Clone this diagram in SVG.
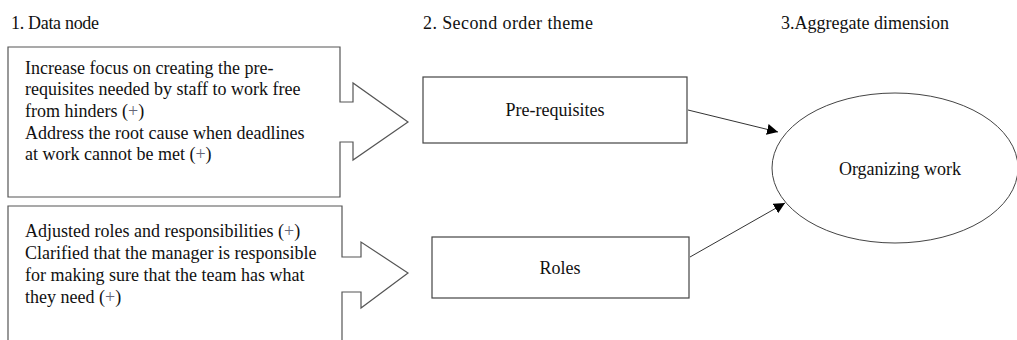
<svg xmlns="http://www.w3.org/2000/svg" width="1017" height="340" viewBox="0 0 1017 340">
<style>
text{font-family:"Liberation Serif","Times New Roman",serif;font-size:18px;fill:#111}
.box{fill:#fff;stroke:#444;stroke-width:1.2}
.callout{fill:#fff;stroke:#555;stroke-width:1.2}
.con{stroke:#333;stroke-width:1;fill:none}
.p{fill:#667}
</style>
<defs>
<marker id="ah" viewBox="0 0 10 10" refX="10" refY="5" markerWidth="11" markerHeight="11" markerUnits="userSpaceOnUse" orient="auto">
<path d="M0,0 L10,5 L0,10 z" fill="#000"/>
</marker>
</defs>
<rect width="1017" height="340" fill="#fff"/>
<g id="headings">
<text x="11" y="29" textLength="88">1. Data node</text>
<text x="423" y="29" textLength="170">2. Second order theme</text>
<text x="781" y="29" textLength="168">3.Aggregate dimension</text>
</g>
<g id="data1">
<path class="callout" d="M8,47 H340 V102 H353 V83 L408,122 L353,160 V142 H340 V197 H8 Z"/>
<text x="25" y="74">Increase focus on creating the pre-</text>
<text x="25" y="95">requisites needed by staff to work free</text>
<text x="25" y="117">from hinders (<tspan class="p">+</tspan>)</text>
<text x="25" y="139">Address the root cause when deadlines</text>
<text x="25" y="160">at work cannot be met (<tspan class="p">+</tspan>)</text>
</g>
<g id="data2">
<path class="callout" d="M8,345 V206 H342 V257 H361 V242 L408,273 L361,308 V292 H342 V345"/>
<text x="25" y="237">Adjusted roles and responsibilities (<tspan class="p">+</tspan>)</text>
<text x="25" y="259">Clarified that the manager is responsible</text>
<text x="25" y="281">for making sure that the team has what</text>
<text x="25" y="303">they need (<tspan class="p">+</tspan>)</text>
</g>
<g id="prereq">
<rect class="box" x="423" y="77" width="264" height="66"/>
<text x="555" y="116" text-anchor="middle">Pre-requisites</text>
</g>
<g id="roles">
<rect class="box" x="432" y="237" width="257" height="61"/>
<text x="560" y="274" text-anchor="middle">Roles</text>
</g>
<g id="org">
<ellipse cx="895" cy="168" rx="123" ry="75" fill="#fff" stroke="#444" stroke-width="1"/>
<text x="900" y="175" text-anchor="middle">Organizing work</text>
</g>
<g id="connectors">
<line class="con" x1="688" y1="110" x2="778" y2="132" marker-end="url(#ah)"/>
<line class="con" x1="690" y1="257" x2="785" y2="203" marker-end="url(#ah)"/>
</g>
</svg>
